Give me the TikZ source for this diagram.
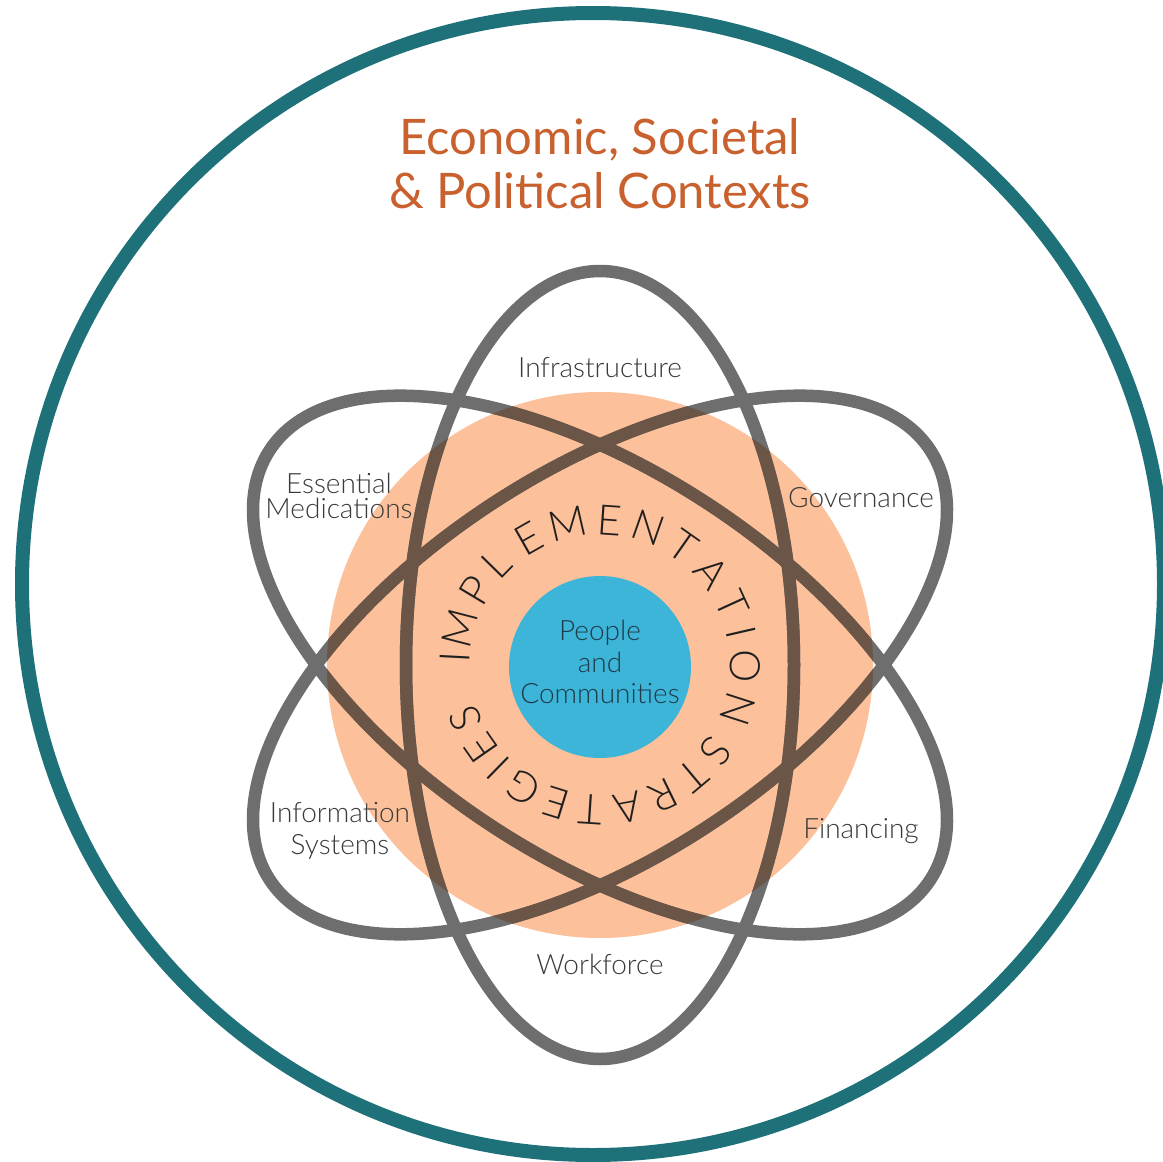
\documentclass[tikz,border=0pt]{standalone}
\usepackage{fontspec}
\setmainfont{Lato}
\newfontfamily\lightfont{Lato Light}
\definecolor{ringteal}{HTML}{1F7179}
\definecolor{titleorange}{HTML}{C9612E}
\definecolor{implorange}{HTML}{FCC09A}
\definecolor{peopleblue}{HTML}{3CB5D8}
\definecolor{ellgray}{HTML}{6E6E6E}
\definecolor{ellbrown}{HTML}{6B5546}
\definecolor{lblgray}{HTML}{3A3A3A}
\definecolor{peopletext}{HTML}{1F3A4A}
\tikzset{
  titletext/.style={font=\fontsize{49}{56}\selectfont, text=titleorange, anchor=base, inner sep=0pt},
  lbl/.style={font=\lightfont\fontsize{28}{32}\selectfont, text=lblgray, anchor=base, inner sep=0pt},
  ppl/.style={font=\lightfont\fontsize{28}{32}\selectfont, text=peopletext, anchor=base, inner sep=0pt},
  ringletter/.style={font=\lightfont\fontsize{42}{46}\selectfont, text=black!88, anchor=center, inner sep=0pt},
  orbit/.style={line width=12.5pt}
}
\begin{document}
\begin{tikzpicture}[x=1pt,y=-1pt]
\path[use as bounding box, fill=white] (0,0) rectangle (1163,1162);
\clip (0,0) rectangle (1163,1162);
% outer context ring
\node[circle, draw=ringteal, line width=14pt, minimum size=1142pt, inner sep=0pt] (context) at (593,584) {};
% implementation disc
\node[circle, fill=implorange, minimum size=546pt, inner sep=0pt] (impl) at (600,665) {};
% orbits
\foreach \r in {0,57,-57}
  \draw[orbit, ellgray, rotate around={\r:(600,665)}] (600,665) ellipse[x radius=194, y radius=394];
\begin{scope}
  \clip (600,665) circle[radius=273];
  \foreach \r in {0,57,-57}
    \draw[orbit, ellbrown, rotate around={\r:(600,665)}] (600,665) ellipse[x radius=194, y radius=394];
\end{scope}
% people disc
\node[circle, fill=peopleblue, minimum size=182pt, inner sep=0pt] (people) at (600,667) {};
\node[ppl] (p1) at (600,640) {People};
\node[ppl] (p2) at (600,672) {and};
\node[ppl] (p3) at (600,703.5) {Communities};
% title
\node[titletext] (title1) at (600,154) {Economic, Societal};
\node[titletext] (title2) at (600,208) {\& Political Contexts};
% labels
\node[lbl] (infra) at (600,377) {Infrastructure};
\node[lbl] (gov) at (861,507) {Governance};
\node[lbl] (fin) at (861,838) {Financing};
\node[lbl] (work) at (600,974) {Workforce};
\node[lbl] (ess1) at (339,493) {Essential};
\node[lbl] (ess2) at (339,518.5) {Medications};
\node[lbl] (info1) at (340,822) {Information};
\node[lbl] (info2) at (340,854) {Systems};
% ring text
\foreach \ch/\a [count=\k] in {I/183,M/194.5,P/211,L/224.4,E/240.4,M/257,E/274,N/289.4,T/305.1,A/320.3,T/335.4,I/347.0,O/360.4,N/377.9,
  S/36.8,T/50.04,R/64.12,A/79.12,T/93.79,E/107.28,G/122.03,I/134.35,E/145.15,S/158.14}
  \node[ringletter, rotate={270-\a}] (ltr\k) at ([shift={(\a:145)}]600,665) {\ch};
\end{tikzpicture}
\end{document}
